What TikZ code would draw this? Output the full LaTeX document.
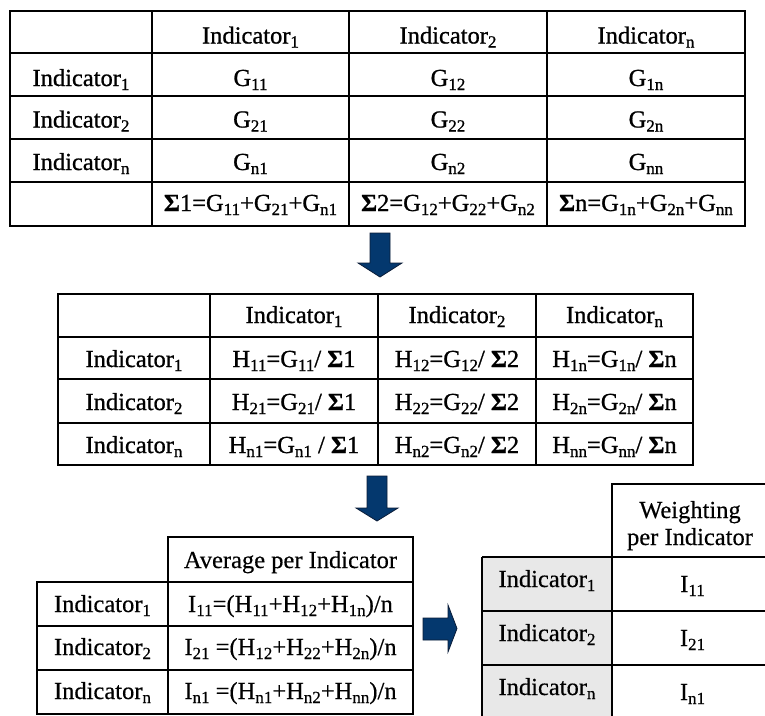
\documentclass[tikz,border=0pt]{standalone}
\usepackage{fontspec}
\setmainfont[FakeBold=0.35]{Liberation Serif}
\newfontfamily\heavyserif[FakeBold=0.9]{Liberation Serif}
% lowered, smaller subscript as in the word-processor tables
\newcommand\sbx[1]{\raisebox{-4pt}{\fontsize{17}{17}\selectfont #1}}
\newcommand\sig{\textbf{Σ}}
\definecolor{arrowblue}{RGB}{4,56,110}
\definecolor{arrowedge}{RGB}{10,28,56}
\definecolor{rowgray}{RGB}{232,232,232}
\tikzset{
  tabline/.style={line width=1.8pt, black},
  cell/.style={anchor=base, inner sep=0pt, align=center},
  heavycell/.style={cell, font=\heavyserif\fontsize{24.5}{27}\selectfont},
  blockarrow/.style={fill=arrowblue, draw=arrowedge, line width=0.8pt, line join=miter}
}
\begin{document}
\begin{tikzpicture}[x=1pt, y=-1pt, font=\fontsize{24.5}{27}\selectfont]
\clip (0,0) rectangle (765,715);
\fill[white] (0,0) rectangle (765,715);

% ---------- table G ----------
\draw[tabline] (10,11) rectangle (745,226);
\foreach \x in {152,349,547} \draw[tabline] (\x,11) -- (\x,226);
\foreach \y in {53,96,139,182} \draw[tabline] (10,\y) -- (745,\y);

\begin{scope}[every node/.style={heavycell}]
\node (g-h1) at (250.5,43.5) {Indicator\sbx{1}};
\node (g-h2) at (448,43.5) {Indicator\sbx{2}};
\node (g-hn) at (646,43.5) {Indicator\sbx{n}};

\node (g-r1) at (81,86) {Indicator\sbx{1}};
\node (g-11) at (250.5,86) {G\sbx{11}};
\node (g-12) at (448,86) {G\sbx{12}};
\node (g-1n) at (646,86) {G\sbx{1n}};

\node (g-r2) at (81,127.5) {Indicator\sbx{2}};
\node (g-21) at (250.5,127.5) {G\sbx{21}};
\node (g-22) at (448,127.5) {G\sbx{22}};
\node (g-2n) at (646,127.5) {G\sbx{2n}};

\node (g-rn) at (81,170) {Indicator\sbx{n}};
\node (g-n1) at (250.5,170) {G\sbx{n1}};
\node (g-n2) at (448,170) {G\sbx{n2}};
\node (g-nn) at (646,170) {G\sbx{nn}};

\node (g-s1) at (250.5,211) {\sig1=G\sbx{11}+G\sbx{21}+G\sbx{n1}};
\node (g-s2) at (448,211) {\sig2=G\sbx{12}+G\sbx{22}+G\sbx{n2}};
\node (g-sn) at (646,211) {\sig n=G\sbx{1n}+G\sbx{2n}+G\sbx{nn}};
\end{scope}

% arrow down to table H
\draw[blockarrow] (370,233) -- (390,233) -- (390,263) -- (402,263) -- (380,277)
  -- (358,263) -- (370,263) -- cycle;

% ---------- table H ----------
\draw[tabline] (58,294) rectangle (693,465);
\foreach \x in {210,378,536} \draw[tabline] (\x,294) -- (\x,465);
\foreach \y in {337,379,423} \draw[tabline] (58,\y) -- (693,\y);

\begin{scope}[every node/.style={heavycell}]
\node (h-h1) at (294,323) {Indicator\sbx{1}};
\node (h-h2) at (457,323) {Indicator\sbx{2}};
\node (h-hn) at (614.5,323) {Indicator\sbx{n}};

\node (h-r1) at (134,367) {Indicator\sbx{1}};
\node (h-11) at (294,367) {H\sbx{11}=G\sbx{11}/ \sig1};
\node (h-12) at (457,367) {H\sbx{12}=G\sbx{12}/ \sig2};
\node (h-1n) at (614.5,367) {H\sbx{1n}=G\sbx{1n}/ \sig n};

\node (h-r2) at (134,410) {Indicator\sbx{2}};
\node (h-21) at (294,410) {H\sbx{21}=G\sbx{21}/ \sig1};
\node (h-22) at (457,410) {H\sbx{22}=G\sbx{22}/ \sig2};
\node (h-2n) at (614.5,410) {H\sbx{2n}=G\sbx{2n}/ \sig n};

\node (h-rn) at (134,453) {Indicator\sbx{n}};
\node (h-n1) at (294,453) {H\sbx{n1}=G\sbx{n1} / \sig1};
\node (h-n2) at (457,453) {H\sbx{n2}=G\sbx{n2}/ \sig2};
\node (h-nn) at (614.5,453) {H\sbx{nn}=G\sbx{nn}/ \sig n};
\end{scope}

% arrow down to the averages
\draw[blockarrow] (367,476) -- (387,476) -- (387,508) -- (398,508) -- (377,521)
  -- (356,508) -- (367,508) -- cycle;

% ---------- table of averages ----------
\draw[tabline] (168,537) rectangle (413,582);
\draw[tabline] (37,582) rectangle (413,714);
\draw[tabline] (168,582) -- (168,714);
\foreach \y in {626,670} \draw[tabline] (37,\y) -- (413,\y);

\node[cell] (a-h) at (290.5,568) {Average per Indicator};
\node[cell] (a-r1) at (102.5,612) {Indicator\sbx{1}};
\node[cell] (a-1) at (290.5,612) {I\sbx{11}=(H\sbx{11}+H\sbx{12}+H\sbx{1n})/n};
\node[cell] (a-r2) at (102.5,655) {Indicator\sbx{2}};
\node[cell] (a-2) at (290.5,655) {I\sbx{21} =(H\sbx{12}+H\sbx{22}+H\sbx{2n})/n};
\node[cell] (a-rn) at (102.5,699) {Indicator\sbx{n}};
\node[cell] (a-n) at (290.5,699) {I\sbx{n1} =(H\sbx{n1}+H\sbx{n2}+H\sbx{nn})/n};

% arrow right to the weights
\draw[blockarrow] (423,618) -- (448,618) -- (448,605) -- (457,628.5) -- (448,652)
  -- (448,640) -- (423,640) -- cycle;

% ---------- table of weights ----------
\fill[rowgray] (482,557) rectangle (612,722);
\draw[tabline] (612,722) -- (612,484) -- (775,484);
\draw[tabline] (482,722) -- (482,557);
\foreach \y in {557,611,665} \draw[tabline] (482,\y) -- (775,\y);

\node[cell] (w-h) at (690,545) {Weighting\\per Indicator};
\node[cell] (w-r1) at (547,587) {Indicator\sbx{1}};
\node[cell] (w-1) at (692.5,592) {I\sbx{11}};
\node[cell] (w-r2) at (547,641) {Indicator\sbx{2}};
\node[cell] (w-2) at (692.5,646) {I\sbx{21}};
\node[cell] (w-rn) at (547,695) {Indicator\sbx{n}};
\node[cell] (w-n) at (692.5,700) {I\sbx{n1}};
\end{tikzpicture}
\end{document}
